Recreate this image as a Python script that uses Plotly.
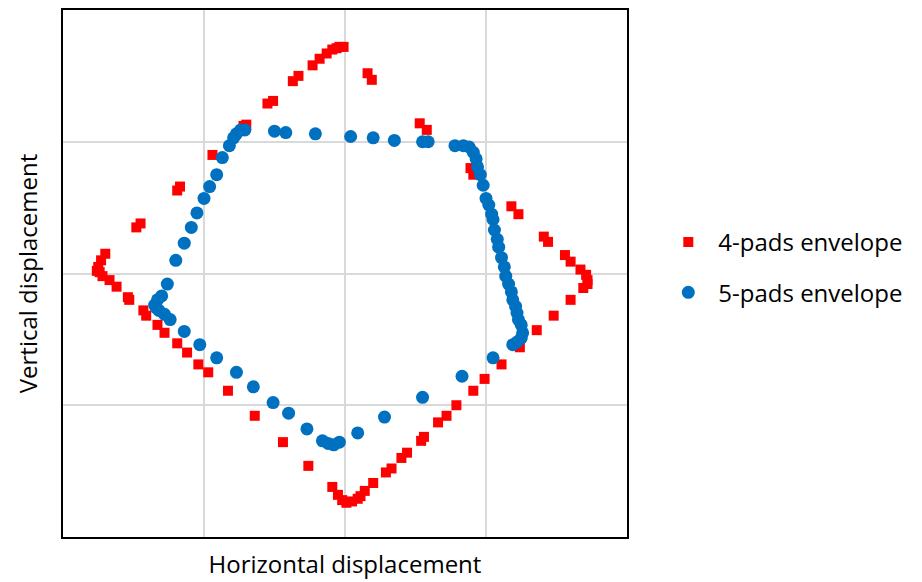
import plotly.graph_objects as go

# 4-pads envelope (red squares)
x4 = [-1.76, -1.75, -1.73, -1.70, -1.48, -1.45, -1.19, -1.17, -0.94, -0.72, -0.70,
      -0.55, -0.51, -0.37, -0.33, -0.23, -0.18, -0.13, -0.09, -0.06, -0.04, -0.01,
      0.16, 0.19, 0.53, 0.58, 0.89, 0.91, 1.18, 1.23, 1.41, 1.44, 1.56, 1.60, 1.67,
      1.71, 1.72, 1.72, 1.69, 1.60, 1.48, 1.36, 1.24, 1.11, 0.99, 0.91, 0.79, 0.72,
      0.66, 0.56, 0.54, 0.44, 0.40, 0.33, 0.29, 0.20, 0.14, 0.11, 0.09, 0.05, 0.01,
      -0.02, -0.05, -0.09, -0.26, -0.44, -0.64, -0.83, -0.97, -1.04, -1.12, -1.19,
      -1.28, -1.33, -1.41, -1.43, -1.53, -1.54, -1.62, -1.67, -1.72, -1.74]
y4 = [0.02, 0.05, 0.10, 0.15, 0.35, 0.38, 0.63, 0.66, 0.90, 1.12, 1.13,
      1.29, 1.31, 1.46, 1.50, 1.58, 1.63, 1.67, 1.70, 1.71, 1.72, 1.72,
      1.52, 1.47, 1.14, 1.09, 0.80, 0.75, 0.51, 0.45, 0.28, 0.24, 0.14, 0.09, 0.03,
      -0.01, -0.05, -0.08, -0.11, -0.20, -0.32, -0.43, -0.56, -0.69, -0.80, -0.89, -1.00, -1.08,
      -1.13, -1.24, -1.27, -1.36, -1.40, -1.48, -1.51, -1.59, -1.65, -1.69, -1.71, -1.73, -1.74,
      -1.72, -1.68, -1.62, -1.46, -1.28, -1.08, -0.89, -0.75, -0.69, -0.60, -0.53,
      -0.45, -0.39, -0.32, -0.28, -0.20, -0.18, -0.10, -0.05, -0.02, 0.01]

# 5-pads envelope (blue circles)
x5 = [-1.35, -1.33, -1.30, -1.26, -1.20, -1.14, -1.09, -1.05, -1.00, -0.96, -0.91,
      -0.87, -0.82, -0.79, -0.77, -0.74, -0.71, -0.50, -0.42, -0.21, 0.04, 0.20,
      0.35, 0.55, 0.59, 0.78, 0.84, 0.88, 0.91, 0.93, 0.94, 0.96, 0.98, 1.00, 1.02,
      1.04, 1.05, 1.06, 1.08, 1.09, 1.11, 1.13, 1.14, 1.16, 1.18, 1.19, 1.21, 1.22,
      1.23, 1.25, 1.26, 1.25, 1.22, 1.19, 1.05, 0.83, 0.55, 0.28, 0.09, -0.04, -0.08,
      -0.12, -0.16, -0.27, -0.40, -0.51, -0.65, -0.77, -0.91, -1.03, -1.14, -1.24,
      -1.28, -1.32, -1.34]
y5 = [-0.24, -0.20, -0.17, -0.08, 0.10, 0.23, 0.35, 0.46, 0.57, 0.66, 0.75,
      0.88, 0.97, 1.03, 1.06, 1.09, 1.09, 1.08, 1.07, 1.06, 1.04, 1.03,
      1.01, 1.00, 1.00, 0.97, 0.97, 0.96, 0.92, 0.87, 0.81, 0.75, 0.67, 0.57, 0.52,
      0.45, 0.41, 0.33, 0.26, 0.20, 0.12, 0.05, -0.02, -0.08, -0.14, -0.20, -0.25, -0.30,
      -0.35, -0.39, -0.45, -0.49, -0.52, -0.54, -0.64, -0.78, -0.94, -1.09, -1.21, -1.28, -1.30,
      -1.29, -1.27, -1.18, -1.06, -0.98, -0.86, -0.75, -0.64, -0.54, -0.44, -0.35,
      -0.31, -0.28, -0.26]

FONT = "'Open Sans', Lato, sans-serif"

fig = go.Figure()
fig.add_trace(go.Scatter(x=x4, y=y4, mode="markers", name="4-pads envelope",
                         legendgroup="a",
                         marker=dict(symbol="square", size=10, color="#FF0000")))
fig.add_trace(go.Scatter(x=x5, y=y5, mode="markers", name="5-pads envelope",
                         legendgroup="b",
                         marker=dict(symbol="circle", size=13, color="#0070C0")))

axis_common = dict(range=[-2, 2], dtick=1, tick0=0, showticklabels=False, ticks="",
                   showgrid=True, gridcolor="#d9d9d9", gridwidth=1.5, zeroline=False,
                   showline=True, linecolor="black", linewidth=2, mirror=True)

fig.update_layout(
    width=922, height=582,
    margin=dict(l=63, r=295, t=8, b=45),
    paper_bgcolor="white", plot_bgcolor="white",
    font=dict(family=FONT, size=24, color="black"),
    xaxis=dict(**axis_common, title=dict(text="Horizontal displacement", standoff=18,
                                         font=dict(size=24))),
    yaxis=dict(**axis_common, title=dict(text="Vertical displacement", standoff=17,
                                         font=dict(size=24))),
    legend=dict(xref="container", yref="container", x=0.714, y=0.622,
                xanchor="left", yanchor="top", itemwidth=50,
                traceorder="grouped", tracegroupgap=16,
                font=dict(size=24), bgcolor="rgba(0,0,0,0)"),
    showlegend=True,
)

fig.write_html("out.html")
